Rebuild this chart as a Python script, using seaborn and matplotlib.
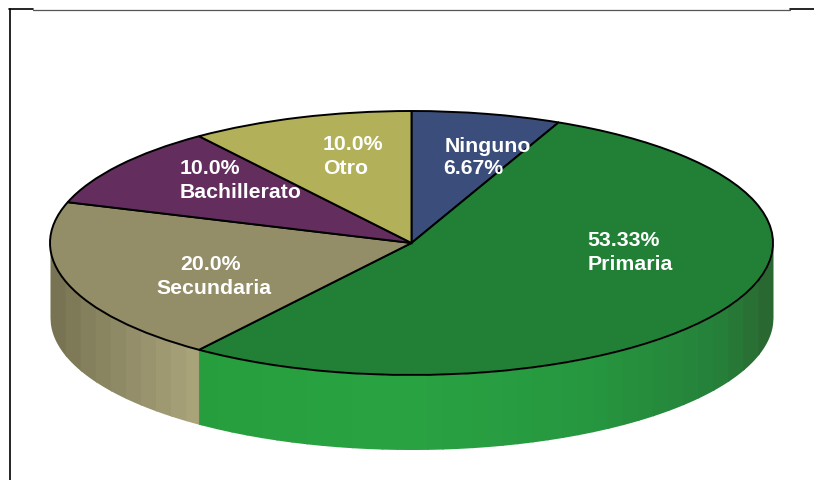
import numpy as np
import matplotlib
matplotlib.use("Agg")
import matplotlib.pyplot as plt
from matplotlib.lines import Line2D
import seaborn as sns

categories = ["Ninguno", "Primaria", "Secundaria", "Bachillerato", "Otro"]
values = [6.67, 53.33, 20.0, 10.0, 10.0]
label_first = ["Ninguno", "53.33%", "20.0%", "10.0%", "10.0%"]
label_second = ["6.67%", "Primaria", "Secundaria", "Bachillerato", "Otro"]
top_colors = ["#3B4D7A", "#218036", "#938E68", "#632E5E", "#B2B058"]

sns.set_theme(style="white")
plt.rcParams["font.family"] = ["Liberation Sans", "DejaVu Sans"]
palette = sns.color_palette(top_colors)

W, H = 814, 480
CX, CY, RX, RY, DEPTH = 411.5, 243, 361.5, 132, 74.5

fig = plt.figure(figsize=(W / 100, H / 100), dpi=100, facecolor="white")
ax = fig.add_axes([0, 0, 1, 1])

def ux(px):
    return (px - CX) / RX

def uy(py):
    return (CY - py) / RY

d = DEPTH / RY

# side wall: shaded strips below the front rim
boundary = np.sin(np.deg2rad(360 * sum(values[:2]) / sum(values)))
edges = np.linspace(-1, 1, 49)
def wall_colour(x):
    if x < boundary:
        t = (x + 1) / (boundary + 1)
        c0, c1 = np.array([0x74, 0x70, 0x50]), np.array([0xAB, 0xA5, 0x7C])
        return (c0 + (c1 - c0) * t ** 0.9) / 255
    stops_x = [boundary, 0.0, 0.5, 0.85, 1.0]
    rs = [0x27, 0x29, 0x26, 0x25, 0x2B]
    gs = [0x9E, 0xA3, 0x96, 0x80, 0x64]
    bs = [0x3E, 0x42, 0x3F, 0x39, 0x30]
    return np.array([np.interp(x, stops_x, rs), np.interp(x, stops_x, gs), np.interp(x, stops_x, bs)]) / 255

strips = sorted(set(list(edges) + [boundary]))
for a, b in zip(strips[:-1], strips[1:]):
    end = min(1, b + 0.004) if not (a < boundary <= b) else b
    xs = np.linspace(a, end, 40)
    rim = -np.sqrt(np.clip(1 - xs ** 2, 0, None))
    ax.fill_between(xs, rim, rim - d, color=wall_colour((a + b) / 2), lw=0, zorder=1)

rim_b = -np.sqrt(1 - boundary ** 2)
ax.plot([boundary, boundary], [rim_b, rim_b - d], color="#777762", lw=0.8, zorder=1.5)

wedges, _ = ax.pie(values, colors=palette, startangle=90, counterclock=False, radius=1,
                   wedgeprops=dict(edgecolor="black", linewidth=1.4, zorder=2))
for w in wedges:
    w.set_zorder(2)

ax.set_aspect("auto")
ax.set_xlim(ux(0), ux(W))
ax.set_ylim(uy(H), uy(0))
ax.axis("off")

first_pos = [(445, 144), (587, 238), (180, 262), (180, 167), (323, 142)]
second_pos = [(443, 167), (588, 262), (156, 286), (180, 190), (323, 166)]
for labels, positions in ((label_first, first_pos), (label_second, second_pos)):
    for txt, (px, py) in zip(labels, positions):
        ax.text(ux(px), uy(py), txt, color="white", fontsize=15.3, fontweight="bold",
                ha="left", va="center_baseline", zorder=5)

# frame fragments at the top and left
def fline(x0, y0, x1, y1, **kw):
    fig.add_artist(Line2D([x0 / W, x1 / W], [1 - y0 / H, 1 - y1 / H], **kw))

fline(33, 9.5, 790, 9.5, color="#555555", lw=0.9)
fline(9, 9.3, 33, 9.3, color="black", lw=1.2)
fline(790, 9.3, 814, 9.3, color="black", lw=1.2)
fline(9.5, 9, 9.5, 480, color="black", lw=1.2)

fig.savefig("out.png", dpi=100, facecolor="white")
